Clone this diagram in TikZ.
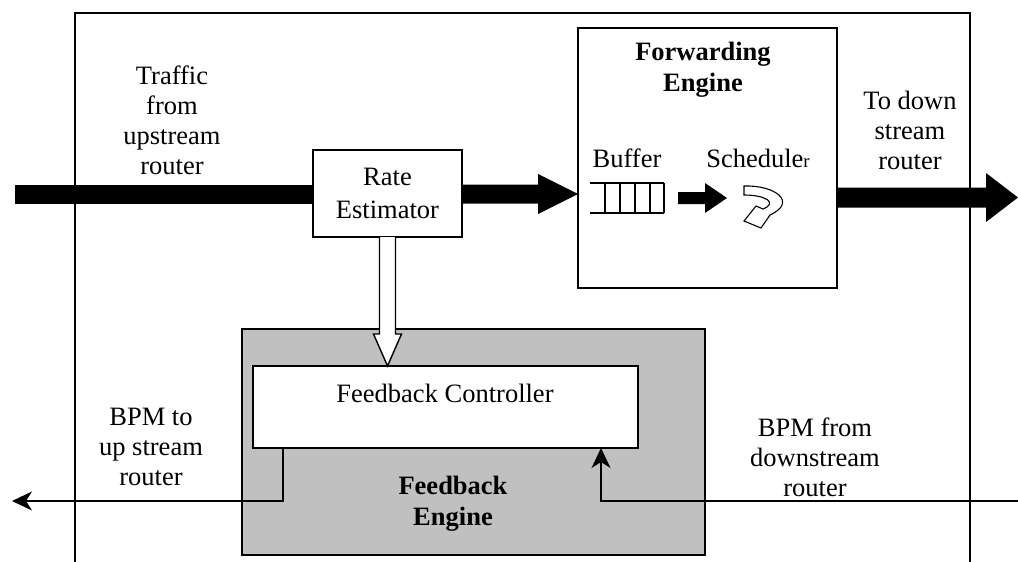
\documentclass[tikz,border=0pt]{standalone}
\usepackage{fontspec}
\setmainfont{Liberation Serif}
\usetikzlibrary{arrows.meta,calc}
\definecolor{fegray}{RGB}{192,192,192}
\begin{document}
\begin{tikzpicture}[x=1pt,y=-1pt,
  txt/.style={font=\fontsize{26.5}{30}\selectfont, align=center, inner sep=0pt},
  btxt/.style={font=\fontsize{26.5}{31}\selectfont\bfseries, align=center, inner sep=0pt},
  box/.style={draw, line width=1.4pt, inner sep=0pt, outer sep=0pt, fill=white},
  thin/.style={line width=1.4pt},
  tip/.style={-{Stealth[length=20pt,width=19pt,inset=6pt]}},
]
\useasboundingbox (0,0) rectangle (1018,562);
% outer frame
\draw[thin] (75,562) -- (75,13) -- (970,13) -- (970,562);

% boxes
\node[box, minimum width=259pt, minimum height=260pt] (fwd) at (707.5,158) {};
\node[box, minimum width=149pt, minimum height=87pt, font=\fontsize{26.5}{33}\selectfont, align=center] (rate) at (387.5,193.5) {Rate\\Estimator};
\node[draw, fill=fegray, line width=1.4pt, inner sep=0pt, outer sep=0pt, minimum width=463pt, minimum height=226pt] (fbe) at (473.5,442) {};
\node[box, minimum width=385pt, minimum height=82pt] (ctrl) at (445.5,407) {};

% labels
\node[txt] (traffic) at (172,120) {Traffic\\from\\upstream\\router};
\node[txt] (todown) at (910,130) {To down\\stream\\router};
\node[txt] (bpmto) at (151,447) {BPM to\\up stream\\router};
\node[txt] (bpmfrom) at (815,457) {BPM from\\downstream\\router};
\node[btxt] (fwdlbl) at (703,70) {Forwarding\\Engine};
\node[btxt] (fbelbl) at (453,504) {Feedback\\Engine};
\node[txt] (ctrllbl) at (445,393) {Feedback Controller};
\node[txt] (buflbl) at (627,158) {Buffer};
\node[txt] (schedlbl) at (758,158) {Schedule{\fontsize{19}{20}\selectfont r}};

% thick traffic arrows
\coordinate (inL) at (15,194);
\fill ($(inL)+(0,-9.5)$) rectangle ($(rate.west|-inL)+(0,9.5)$);
\coordinate (fwdin) at (fwd.west|-inL);
\fill ($(rate.east|-inL)+(0,-9.5)$) -- ($(fwdin)+(-40,-9.5)$) -- ($(fwdin)+(-40,-20)$) -- (fwdin)
  -- ($(fwdin)+(-40,20)$) -- ($(fwdin)+(-40,9.5)$) -- ($(rate.east|-inL)+(0,9.5)$) -- cycle;
\coordinate (outR) at (1018,197.5);
\fill ($(fwd.east|-outR)+(0,-10)$) -- ($(outR)+(-32,-10)$) -- ($(outR)+(-32,-24.5)$) -- (outR)
  -- ($(outR)+(-32,24.5)$) -- ($(outR)+(-32,10)$) -- ($(fwd.east|-outR)+(0,10)$) -- cycle;

% hollow arrow rate estimator -> feedback controller
\coordinate (htip) at (rate.south|-ctrl.north);
\draw[thin, fill=white, line join=miter] ($(rate.south)+(-8,0)$) -- ($(htip)+(-8,-32)$) -- ($(htip)+(-14,-32)$) -- (htip)
  -- ($(htip)+(14,-32)$) -- ($(htip)+(8,-32)$) -- ($(rate.south)+(8,0)$);

% buffer
\draw[thin] (590,183) -- (664,183) (590,213) -- (664,213);
\foreach \x in {605,620,635,650,664} \draw[thin] (\x,183) -- (\x,213);
% small arrow buffer -> scheduler
\fill (678,192) -- (705,192) -- (705,183) -- (727,198) -- (705,213) -- (705,204) -- (678,204) -- cycle;
% scheduler curved arrow
\draw[line width=1.1pt, fill=white, line join=miter]
  (744,186) .. controls (775,185) and (798,202) .. (770,215)
  -- (761,228) -- (744,221) -- (756,206) -- (763,209)
  .. controls (778,203) and (766,195) .. (744,195) -- cycle;

% BPM lines
\coordinate (outL) at (12,501);
\draw[thin, tip] ($(ctrl.south west)+(30,0)$) |- (outL);
\coordinate (inR) at (1018,501);
\draw[thin, tip] (inR) -| ($(ctrl.south east)+(-37,0)$);
\end{tikzpicture}
\end{document}
